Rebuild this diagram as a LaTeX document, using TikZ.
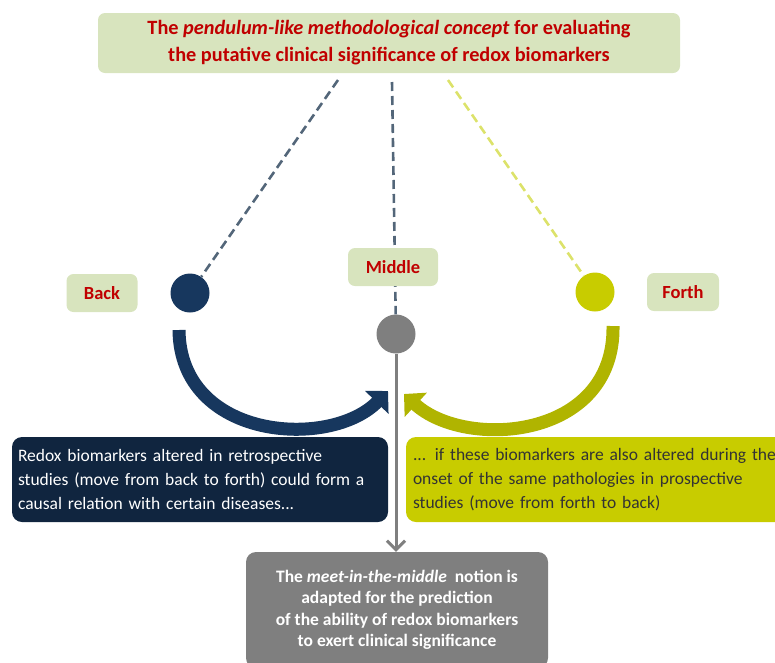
\documentclass[tikz,border=0pt]{standalone}
\usepackage{fontspec}
\setmainfont{Carlito}
\usepackage{tikz}
\usetikzlibrary{shapes,arrows.meta,positioning}

\definecolor{paleGreen}{HTML}{D8E4BE}
\definecolor{titleRed}{HTML}{C00000}
\definecolor{navyBlue}{HTML}{17375E}
\definecolor{navyDark}{HTML}{10253F}
\definecolor{limeYellow}{HTML}{C8CC00}
\definecolor{oliveYellow}{HTML}{B0B400}
\definecolor{slateGray}{HTML}{536679}
\definecolor{paleLime}{HTML}{DCE26A}
\definecolor{midGray}{HTML}{7F7F7F}

\begin{document}
\begin{tikzpicture}[x=1pt,y=-1pt,
    greenbox/.style={fill=paleGreen, rounded corners=7pt, text=titleRed, inner sep=0pt,
        font=\bfseries\fontsize{18.5}{20}\selectfont},
    bob/.style={circle, inner sep=0pt, minimum size=39},
    swing/.style={line width=2.6pt, dash pattern=on 9pt off 5pt},
    textbox/.style={rounded corners=10pt, inner sep=0pt, minimum height=85,
        align=left, font=\fontsize{17.5}{24}\selectfont}]
\useasboundingbox (0,0) rectangle (775,662);

% title and the three bobs
\node[greenbox, minimum width=582, minimum height=60, align=center,
      font=\bfseries\fontsize{20.3}{27}\selectfont] (title) at (389,43)
    {The \textit{pendulum-like methodological concept} for evaluating\\the putative clinical significance of redox biomarkers};
\node[bob, fill=navyBlue] (backc) at (190,293) {};
\node[bob, fill=midGray] (midc) at (396,334) {};
\node[bob, fill=limeYellow] (forthc) at (595,292) {};

% strings
\coordinate (lt) at (338,80);
\coordinate (mt) at (392,82);
\coordinate (rt) at (448,80);
\draw[swing, slateGray] (lt) -- (backc);
\draw[swing, slateGray] (mt) -- (midc);
\draw[swing, paleLime] (rt) -- (forthc);

% position labels
\node[greenbox, minimum width=71, minimum height=38] (back) at (102,293) {Back};
\node[greenbox, minimum width=90, minimum height=38] (middle) at (393,267) {Middle};
\node[greenbox, minimum width=72, minimum height=38] (forth) at (683,292) {Forth};

% swings to the middle
\coordinate (bstart) at (179,330);
\coordinate (bend) at (388,391);
\coordinate (fstart) at (613,326);
\coordinate (fend) at (404,394);
\draw[navyBlue, line width=13pt, -{Triangle[length=16pt,width=32pt]}]
    (bstart) .. controls (180,440) and (330,450) .. (bend);
\draw[oliveYellow, line width=13pt, -{Triangle[length=16pt,width=32pt]}]
    (fstart) .. controls (615,440) and (465,450) .. (fend);

% text boxes
\node[textbox, fill=navyDark, text=white, minimum width=376, text width=364] (retro) at (200,479.5)
    {Redox biomarkers altered in retrospective\\studies (move from back to forth) could form a\\causal relation with certain diseases...};
\node[textbox, fill=limeYellow, text=black!80, minimum width=390, text width=376] (prosp) at (601,479.5)
    {... if these biomarkers are also altered during the\\onset of the same pathologies in prospective\\studies (move from forth to back)};
\node[fill=midGray, rounded corners=10pt, minimum width=302, minimum height=116, inner sep=0pt,
      align=center, text=white, font=\bfseries\fontsize{17.5}{21.5}\selectfont] (meet) at (397,610)
    {The \textit{meet-in-the-middle}\ \ notion is\\adapted for the prediction\\of the ability of redox biomarkers\\to exert clinical significance};

\draw[midGray, line width=3pt, -{Straight Barb[length=9pt,width=18pt]}] (midc) -- (meet.north -| midc);
\end{tikzpicture}
\end{document}
